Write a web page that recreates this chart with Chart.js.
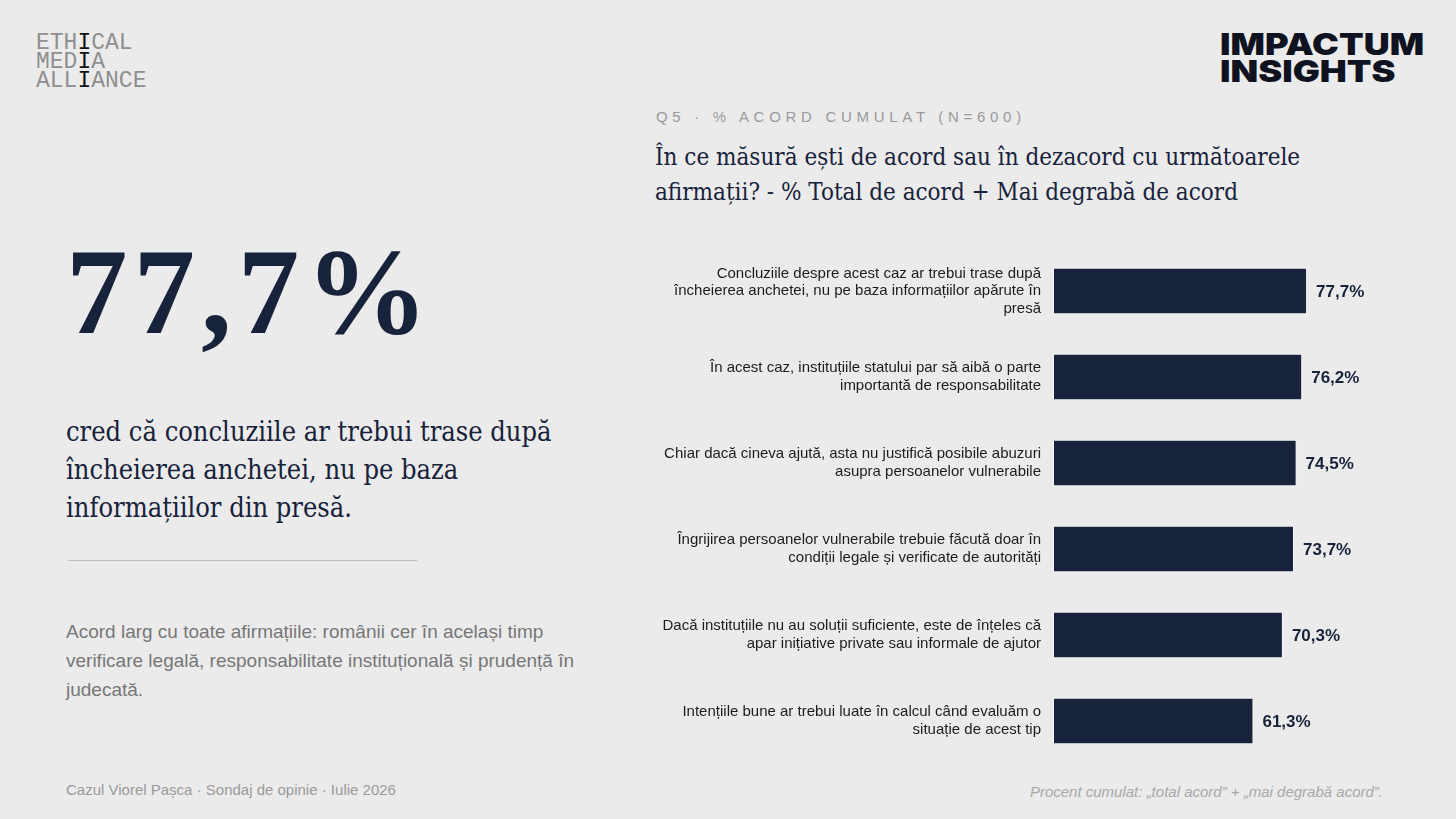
<!DOCTYPE html>
<html>
<head>
<meta charset="utf-8">
<script src="https://cdn.jsdelivr.net/npm/chart.js@4.4.1/dist/chart.umd.min.js"></script>
<style>
  html, body { margin: 0; padding: 0; }
  body {
    width: 1456px; height: 819px; overflow: hidden;
    background: #ebebeb; position: relative;
    font-family: "Liberation Sans", Arial, sans-serif;
  }
  .abs { position: absolute; white-space: nowrap; }
  .logo-left {
    left: 36px; top: 34px;
    font-family: "Liberation Mono", "DejaVu Sans Mono", monospace;
    font-size: 23px; line-height: 19px; color: #8f8f8f;
  }
  .logo-left b { color: #111; font-weight: normal; }
  .logo-right {
    left: 1220px; top: 31px;
    font-family: Inter, "Liberation Sans", sans-serif;
    font-weight: 900; font-size: 30px; line-height: 27px;
    color: #0f1220; letter-spacing: 0px;
    transform: scaleX(1.2); transform-origin: left top;
  }
  .big {
    left: 66px; top: 222px;
    font-family: "Liberation Serif", serif; font-weight: bold;
    font-size: 123px; line-height: 140px; color: #17223b; letter-spacing: 6px;
  }
  .lead {
    left: 66px; top: 413px;
    font-family: "DejaVu Serif", serif; font-stretch: condensed;
    font-size: 27px; line-height: 38px; color: #17223b;
  }
  .rule { left: 68px; top: 560px; width: 349px; height: 1px; background: #bdbdbd; }
  .note {
    left: 66px; top: 617px;
    font-size: 19px; line-height: 29px; color: #777;
  }
  .kicker {
    left: 656px; top: 108px;
    font-size: 15px; letter-spacing: 4.7px; color: #9a9a9a;
  }
  .title {
    left: 655px; top: 140px;
    font-family: "DejaVu Serif", serif; font-stretch: condensed;
    font-size: 24px; line-height: 35px; color: #17223b;
  }
  .foot-l { left: 66px; top: 781px; font-size: 15px; color: #9a9a9a; }
  .foot-r { right: 73px; top: 783px; font-size: 15px; color: #a8a8a8; font-style: italic; }
  #wrap { position: absolute; left: 640px; top: 240px; width: 760px; height: 531px; }
</style>
</head>
<body>
<div class="abs logo-left">ETH<b>I</b>CAL<br>MED<b>I</b>A<br>ALL<b>I</b>ANCE</div>
<div class="abs logo-right">IMPACTUM<br>INSIGHTS</div>

<div class="abs big">77,7%</div>
<div class="abs lead">cred că concluziile ar trebui trase după<br>încheierea anchetei, nu pe baza<br>informațiilor din presă.</div>
<div class="abs rule"></div>
<div class="abs note">Acord larg cu toate afirmațiile: românii cer în același timp<br>verificare legală, responsabilitate instituțională și prudență în<br>judecată.</div>

<div class="abs kicker">Q5 · % ACORD CUMULAT (N=600)</div>
<div class="abs title">În ce măsură ești de acord sau în dezacord cu următoarele<br>afirmații? - % Total de acord + Mai degrabă de acord</div>

<div id="wrap"><canvas id="barChart"></canvas></div>

<div class="abs foot-l">Cazul Viorel Pașca · Sondaj de opinie · Iulie 2026</div>
<div class="abs foot-r">Procent cumulat: „total acord” + „mai degrabă acord”.</div>

<script>
// Statements (multi-line labels) and cumulative agreement, %
const statements = [
  ['Concluziile despre acest caz ar trebui trase după', 'încheierea anchetei, nu pe baza informațiilor apărute în', 'presă'],
  ['În acest caz, instituțiile statului par să aibă o parte', 'importantă de responsabilitate'],
  ['Chiar dacă cineva ajută, asta nu justifică posibile abuzuri', 'asupra persoanelor vulnerabile'],
  ['Îngrijirea persoanelor vulnerabile trebuie făcută doar în', 'condiții legale și verificate de autorități'],
  ['Dacă instituțiile nu au soluții suficiente, este de înțeles că', 'apar inițiative private sau informale de ajutor'],
  ['Intențiile bune ar trebui luate în calcul când evaluăm o', 'situație de acest tip']
];
const agreePct = [77.7, 76.2, 74.5, 73.7, 70.3, 61.3];

const navy = '#17223b';

// value labels at the end of each bar
const valueLabels = {
  id: 'valueLabels',
  afterDatasetsDraw(chart) {
    const { ctx } = chart;
    const meta = chart.getDatasetMeta(0);
    ctx.save();
    ctx.font = 'bold 17px "Liberation Sans", Arial, sans-serif';
    ctx.fillStyle = navy;
    ctx.textAlign = 'left';
    ctx.textBaseline = 'middle';
    meta.data.forEach((bar, i) => {
      const txt = agreePct[i].toFixed(1).replace('.', ',') + '%';
      ctx.fillText(txt, bar.x + 9, bar.y + 1);
    });
    ctx.restore();
  }
};

new Chart(document.getElementById('barChart'), {
  type: 'bar',
  data: {
    labels: statements,
    datasets: [{
      data: agreePct,
      backgroundColor: navy,
      borderColor: '#f7f7f7',
      borderWidth: 1,
      borderSkipped: false,
      categoryPercentage: 1,
      barPercentage: 0.54
    }]
  },
  options: {
    indexAxis: 'y',
    responsive: true,
    maintainAspectRatio: false,
    animation: false,
    layout: { padding: { top: 8, bottom: 7, right: 20, left: 0 } },
    plugins: { legend: { display: false }, tooltip: { enabled: false } },
    scales: {
      x: { display: false, min: 0, max: 100 },
      y: {
        grid: { display: false, drawTicks: false },
        border: { display: false },
        afterFit: (s) => {
          s.width = 413;
          s.paddingTop = 0;
          s.paddingBottom = 0;
        },
        ticks: {
          padding: 12,
          color: '#1c1c1c',
          font: { family: '"Liberation Sans", Arial, sans-serif', size: 15, lineHeight: 1.17 }
        }
      }
    }
  },
  plugins: [valueLabels]
});
</script>
</body>
</html>
